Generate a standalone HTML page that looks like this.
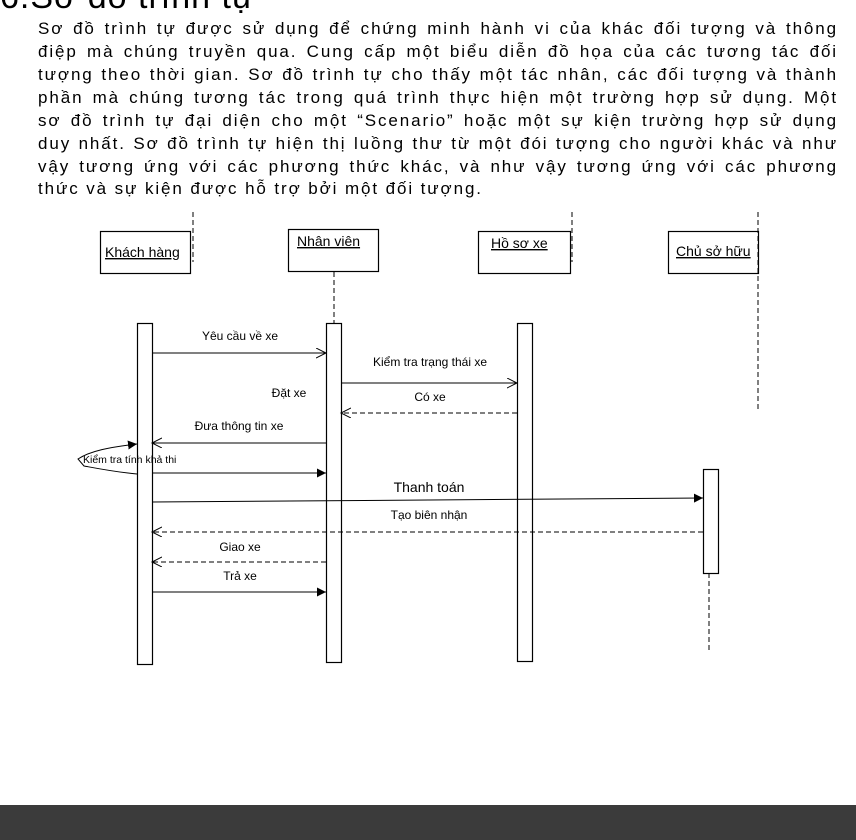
<!DOCTYPE html>
<html><head><meta charset="utf-8"><style>
html,body{margin:0;padding:0;background:#fff;}
body{width:856px;height:840px;position:relative;overflow:hidden;font-family:"Liberation Sans",Arial,sans-serif;}
.title{position:absolute;left:0;top:-22px;font-size:34px;letter-spacing:1px;color:#000;white-space:nowrap;}
.p{position:absolute;left:38px;width:800px;font-size:17px;letter-spacing:1.9px;color:#000;text-align:justify;text-align-last:justify;white-space:nowrap;height:23px;line-height:23px;}
.p.last{text-align-last:left;}
.bar{position:absolute;left:0;top:805px;width:856px;height:35px;background:#3b3b3b;}
svg{position:absolute;left:0;top:0;}
svg text{font-family:"Liberation Sans",Arial,sans-serif;font-size:12px;fill:#000;}
</style></head><body>
<div class="title">6.Sơ đồ trình tự</div>
<div class="p" style="top:17px">Sơ đồ trình tự được sử dụng để chứng minh hành vi của khác đối tượng và thông</div>
<div class="p" style="top:40px">điệp mà chúng truyền qua. Cung cấp một biểu diễn đồ họa của các tương tác đối</div>
<div class="p" style="top:63px">tượng theo thời gian. Sơ đồ trình tự cho thấy một tác nhân, các đối tượng và thành</div>
<div class="p" style="top:86px">phần mà chúng tương tác trong quá trình thực hiện một trường hợp sử dụng. Một</div>
<div class="p" style="top:109px">sơ đồ trình tự đại diện cho một “Scenario” hoặc một sự kiện trường hợp sử dụng</div>
<div class="p" style="top:132px">duy nhất. Sơ đồ trình tự hiện thị luồng thư từ một đói tượng cho người khác và như</div>
<div class="p" style="top:155px">vậy tương ứng với các phương thức khác, và như vậy tương ứng với các phương</div>
<div class="p last" style="top:177px">thức và sự kiện được hỗ trợ bởi một đối tượng.</div>
<svg width="856" height="840" viewBox="0 0 856 840">
<defs>
<marker id="open" markerWidth="12" markerHeight="12" refX="10" refY="5" orient="auto" markerUnits="userSpaceOnUse"><path d="M0,0 L10,5 L0,10" fill="none" stroke="#000" stroke-width="1"/></marker>
<marker id="fill" markerWidth="12" markerHeight="12" refX="9" refY="4.5" orient="auto" markerUnits="userSpaceOnUse"><path d="M0,0 L9,4.5 L0,9 Z" fill="#000"/></marker>
</defs>
<g stroke="#000" stroke-width="1.2" fill="#fff">
<rect x="100.5" y="231.5" width="90" height="42"/>
<rect x="288.5" y="229.5" width="90" height="42"/>
<rect x="478.5" y="231.5" width="92" height="42"/>
<rect x="668.5" y="231.5" width="90" height="42"/>
</g>
<g stroke="#000" stroke-width="1" stroke-dasharray="5,3" fill="none">
<line x1="193" y1="212" x2="193" y2="262"/>
<line x1="334" y1="272" x2="334" y2="323"/>
<line x1="572" y1="212" x2="572" y2="262"/>
<line x1="758" y1="212" x2="758" y2="411"/>
<line x1="709" y1="573" x2="709" y2="652"/>
</g>
<g stroke="#000" stroke-width="1.2" fill="#fff">
<rect x="137.5" y="323.5" width="15" height="341"/>
<rect x="326.5" y="323.5" width="15" height="339"/>
<rect x="517.5" y="323.5" width="15" height="338"/>
<rect x="703.5" y="469.5" width="15" height="104"/>
</g>
<g stroke="#000" stroke-width="1" fill="none">
<line x1="152" y1="353" x2="326" y2="353" marker-end="url(#open)"/>
<line x1="341" y1="383" x2="517" y2="383" marker-end="url(#open)"/>
<line x1="517" y1="413" x2="341" y2="413" stroke-dasharray="5,3" marker-end="url(#open)"/>
<line x1="326" y1="443" x2="152" y2="443" marker-end="url(#open)"/>
<path d="M137,474 C115,472 95,468 84,466 L78,459 C90,451 110,447 137,444" marker-end="url(#fill)"/>
<line x1="152" y1="473" x2="326" y2="473" marker-end="url(#fill)"/>
<line x1="152" y1="502" x2="703" y2="498" marker-end="url(#fill)"/>
<line x1="703" y1="532" x2="152" y2="532" stroke-dasharray="5,3" marker-end="url(#open)"/>
<line x1="326" y1="562" x2="152" y2="562" stroke-dasharray="5,3" marker-end="url(#open)"/>
<line x1="152" y1="592" x2="326" y2="592" marker-end="url(#fill)"/>
</g>
<text x="105" y="257" style="font-size:14px" text-decoration="underline">Khách hàng</text>
<text x="297" y="246" style="font-size:14px" text-decoration="underline">Nhân viên</text>
<text x="491" y="248" style="font-size:14px" text-decoration="underline">Hồ sơ xe</text>
<text x="676" y="256" style="font-size:14px" text-decoration="underline">Chủ sở hữu</text>
<text x="240" y="340" text-anchor="middle">Yêu cầu về xe</text>
<text x="430" y="366" text-anchor="middle">Kiểm tra trạng thái xe</text>
<text x="289" y="397" text-anchor="middle">Đặt xe</text>
<text x="430" y="401" text-anchor="middle">Có xe</text>
<text x="239" y="430" text-anchor="middle">Đưa thông tin xe</text>
<text x="83" y="463" style="font-size:10.5px">Kiểm tra tính khả thi</text>
<text x="429" y="492" text-anchor="middle" style="font-size:14px">Thanh toán</text>
<text x="429" y="519" text-anchor="middle">Tạo biên nhận</text>
<text x="240" y="551" text-anchor="middle">Giao xe</text>
<text x="240" y="580" text-anchor="middle">Trả xe</text>
</svg>
<div class="bar"></div>
</body></html>
